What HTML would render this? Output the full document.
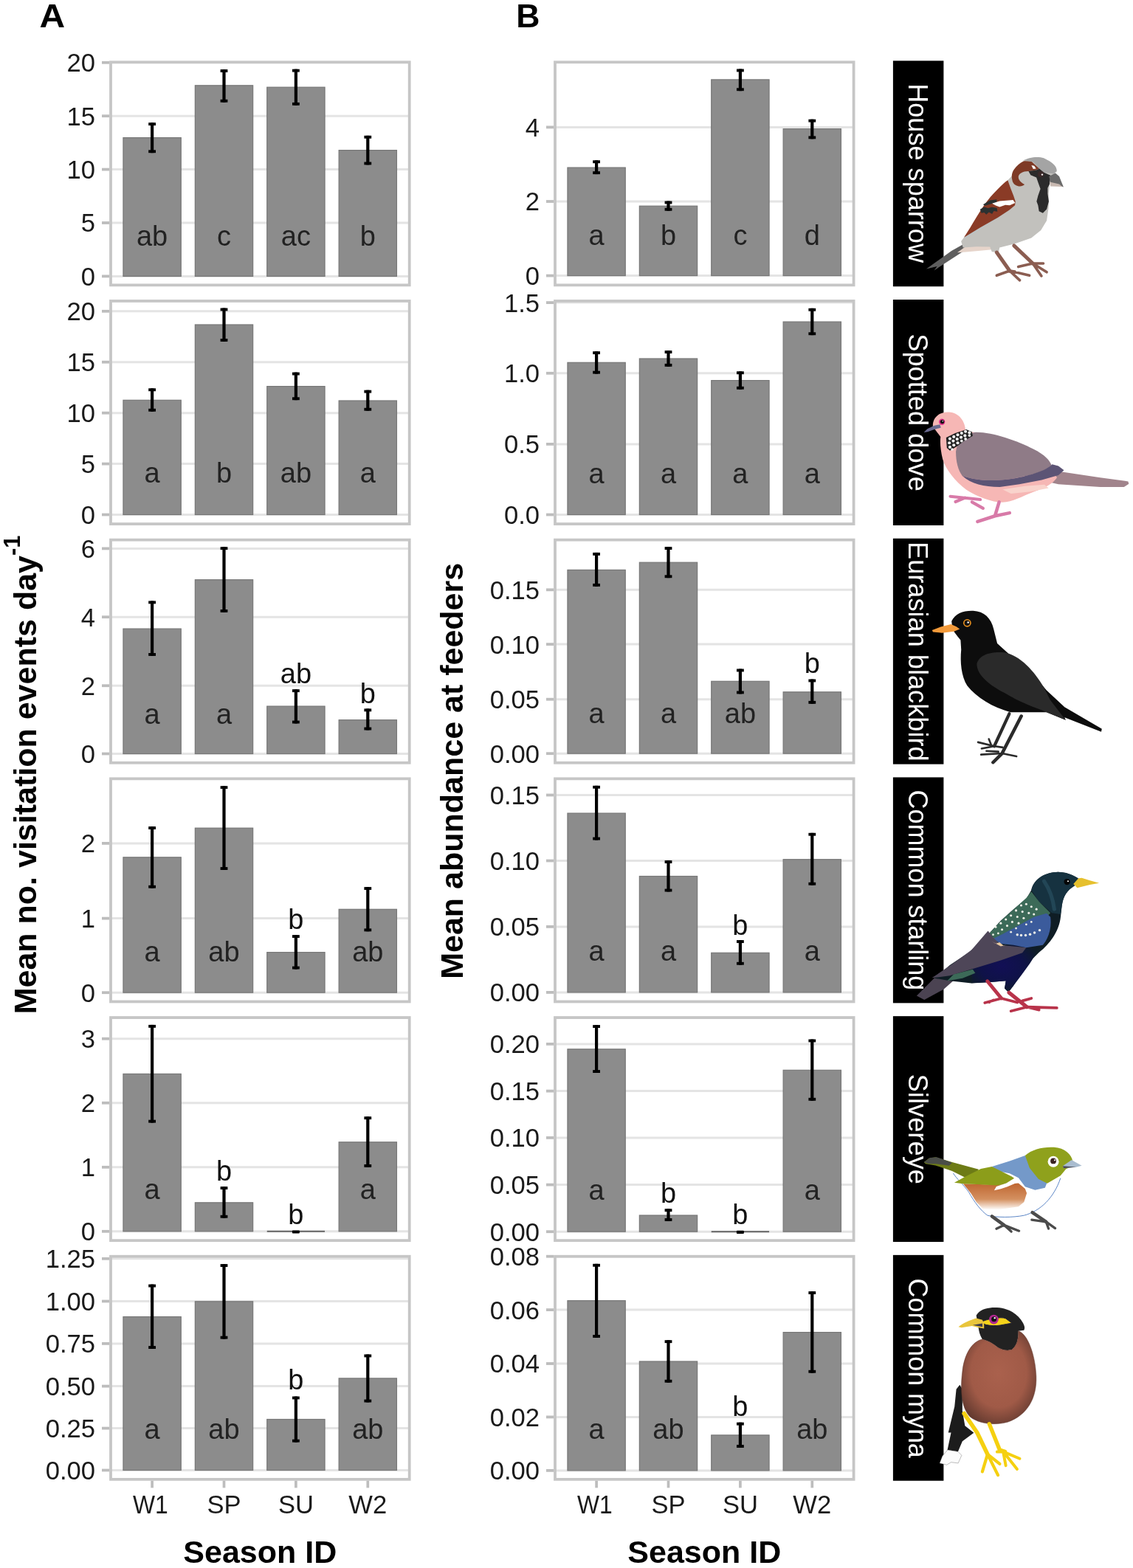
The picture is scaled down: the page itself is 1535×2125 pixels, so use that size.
<!DOCTYPE html>
<html><head><meta charset="utf-8"><title>Figure</title>
<style>
html,body{margin:0;padding:0;background:#fff;}
svg{display:block;}
text{font-family:"Liberation Sans",Arial,Helvetica,sans-serif;}
.lt{font-size:38px;text-anchor:middle;}
.tk{font-size:34.6px;text-anchor:end;fill:#1a1a1a;}
.xt{font-size:34.6px;text-anchor:middle;fill:#1a1a1a;}
.ttl{font-size:43px;font-weight:bold;fill:#000;}
.tag{font-size:44.5px;font-weight:bold;fill:#000;}
.st{font-size:37.7px;fill:#fff;text-anchor:middle;}
</style></head>
<body>
<svg width="1535" height="2125" viewBox="0 0 1535 2125">
<rect width="1535" height="2125" fill="#fff"/>
<line x1="150" y1="374.4" x2="554.7" y2="374.4" stroke="#e4e4e4" stroke-width="3"/>
<line x1="150" y1="302" x2="554.7" y2="302" stroke="#e4e4e4" stroke-width="3"/>
<line x1="150" y1="229.6" x2="554.7" y2="229.6" stroke="#e4e4e4" stroke-width="3"/>
<line x1="150" y1="157.2" x2="554.7" y2="157.2" stroke="#e4e4e4" stroke-width="3"/>
<line x1="150" y1="84.8" x2="554.7" y2="84.8" stroke="#e4e4e4" stroke-width="3"/>
<rect x="166.95" y="186.6" width="78.3" height="187.8" fill="#8c8c8c" stroke="#777777" stroke-width="1.2"/>
<rect x="264.35" y="115.8" width="78.3" height="258.6" fill="#8c8c8c" stroke="#777777" stroke-width="1.2"/>
<rect x="361.75" y="118.2" width="78.3" height="256.2" fill="#8c8c8c" stroke="#777777" stroke-width="1.2"/>
<rect x="459.15" y="203.6" width="78.3" height="170.8" fill="#8c8c8c" stroke="#777777" stroke-width="1.2"/>
<rect x="204" y="166.2" width="4.2" height="41" fill="#000"/>
<rect x="201.2" y="166.2" width="9.8" height="3.9" fill="#000"/>
<rect x="201.2" y="203.3" width="9.8" height="3.9" fill="#000"/>
<rect x="301.4" y="94.1" width="4.2" height="44.6" fill="#000"/>
<rect x="298.6" y="94.1" width="9.8" height="3.9" fill="#000"/>
<rect x="298.6" y="134.8" width="9.8" height="3.9" fill="#000"/>
<rect x="398.8" y="93.7" width="4.2" height="49.1" fill="#000"/>
<rect x="396" y="93.7" width="9.8" height="3.9" fill="#000"/>
<rect x="396" y="138.9" width="9.8" height="3.9" fill="#000"/>
<rect x="496.2" y="183.8" width="4.2" height="39.6" fill="#000"/>
<rect x="493.4" y="183.8" width="9.8" height="3.9" fill="#000"/>
<rect x="493.4" y="219.5" width="9.8" height="3.9" fill="#000"/>
<text x="206.1" y="332.6" class="lt" fill="#222">ab</text>
<text x="303.5" y="332.6" class="lt" fill="#222">c</text>
<text x="400.9" y="332.6" class="lt" fill="#222">ac</text>
<text x="498.3" y="332.6" class="lt" fill="#222">b</text>
<rect x="150" y="84.25" width="404.7" height="302.1" fill="none" stroke="#c6c6c6" stroke-width="3.8"/>
<line x1="138" y1="374.4" x2="148.1" y2="374.4" stroke="#bdbdbd" stroke-width="3.8"/>
<text x="129" y="386.8" class="tk">0</text>
<line x1="138" y1="302" x2="148.1" y2="302" stroke="#bdbdbd" stroke-width="3.8"/>
<text x="129" y="314.4" class="tk">5</text>
<line x1="138" y1="229.6" x2="148.1" y2="229.6" stroke="#bdbdbd" stroke-width="3.8"/>
<text x="129" y="242" class="tk">10</text>
<line x1="138" y1="157.2" x2="148.1" y2="157.2" stroke="#bdbdbd" stroke-width="3.8"/>
<text x="129" y="169.6" class="tk">15</text>
<line x1="138" y1="84.8" x2="148.1" y2="84.8" stroke="#bdbdbd" stroke-width="3.8"/>
<text x="129" y="97.2" class="tk">20</text>
<line x1="150" y1="697.5" x2="554.7" y2="697.5" stroke="#e4e4e4" stroke-width="3"/>
<line x1="150" y1="628.6" x2="554.7" y2="628.6" stroke="#e4e4e4" stroke-width="3"/>
<line x1="150" y1="559.65" x2="554.7" y2="559.65" stroke="#e4e4e4" stroke-width="3"/>
<line x1="150" y1="490.7" x2="554.7" y2="490.7" stroke="#e4e4e4" stroke-width="3"/>
<line x1="150" y1="421.8" x2="554.7" y2="421.8" stroke="#e4e4e4" stroke-width="3"/>
<rect x="166.95" y="542.3" width="78.3" height="155.2" fill="#8c8c8c" stroke="#777777" stroke-width="1.2"/>
<rect x="264.35" y="440" width="78.3" height="257.5" fill="#8c8c8c" stroke="#777777" stroke-width="1.2"/>
<rect x="361.75" y="523.6" width="78.3" height="173.9" fill="#8c8c8c" stroke="#777777" stroke-width="1.2"/>
<rect x="459.15" y="543" width="78.3" height="154.5" fill="#8c8c8c" stroke="#777777" stroke-width="1.2"/>
<rect x="204" y="526.3" width="4.2" height="31.4" fill="#000"/>
<rect x="201.2" y="526.3" width="9.8" height="3.9" fill="#000"/>
<rect x="201.2" y="553.8" width="9.8" height="3.9" fill="#000"/>
<rect x="301.4" y="417.5" width="4.2" height="45.4" fill="#000"/>
<rect x="298.6" y="417.5" width="9.8" height="3.9" fill="#000"/>
<rect x="298.6" y="459" width="9.8" height="3.9" fill="#000"/>
<rect x="398.8" y="504.6" width="4.2" height="37.6" fill="#000"/>
<rect x="396" y="504.6" width="9.8" height="3.9" fill="#000"/>
<rect x="396" y="538.3" width="9.8" height="3.9" fill="#000"/>
<rect x="496.2" y="528.7" width="4.2" height="28" fill="#000"/>
<rect x="493.4" y="528.7" width="9.8" height="3.9" fill="#000"/>
<rect x="493.4" y="552.8" width="9.8" height="3.9" fill="#000"/>
<text x="206.1" y="654.1" class="lt" fill="#222">a</text>
<text x="303.5" y="654.1" class="lt" fill="#222">b</text>
<text x="400.9" y="654.1" class="lt" fill="#222">ab</text>
<text x="498.3" y="654.1" class="lt" fill="#222">a</text>
<rect x="150" y="407.95" width="404.7" height="302.1" fill="none" stroke="#c6c6c6" stroke-width="3.8"/>
<line x1="138" y1="697.5" x2="148.1" y2="697.5" stroke="#bdbdbd" stroke-width="3.8"/>
<text x="129" y="709.9" class="tk">0</text>
<line x1="138" y1="628.6" x2="148.1" y2="628.6" stroke="#bdbdbd" stroke-width="3.8"/>
<text x="129" y="641" class="tk">5</text>
<line x1="138" y1="559.65" x2="148.1" y2="559.65" stroke="#bdbdbd" stroke-width="3.8"/>
<text x="129" y="572.05" class="tk">10</text>
<line x1="138" y1="490.7" x2="148.1" y2="490.7" stroke="#bdbdbd" stroke-width="3.8"/>
<text x="129" y="503.1" class="tk">15</text>
<line x1="138" y1="421.8" x2="148.1" y2="421.8" stroke="#bdbdbd" stroke-width="3.8"/>
<text x="129" y="434.2" class="tk">20</text>
<line x1="150" y1="1021.5" x2="554.7" y2="1021.5" stroke="#e4e4e4" stroke-width="3"/>
<line x1="150" y1="929.25" x2="554.7" y2="929.25" stroke="#e4e4e4" stroke-width="3"/>
<line x1="150" y1="836.2" x2="554.7" y2="836.2" stroke="#e4e4e4" stroke-width="3"/>
<line x1="150" y1="743.4" x2="554.7" y2="743.4" stroke="#e4e4e4" stroke-width="3"/>
<rect x="166.95" y="852.1" width="78.3" height="169.4" fill="#8c8c8c" stroke="#777777" stroke-width="1.2"/>
<rect x="264.35" y="785.7" width="78.3" height="235.8" fill="#8c8c8c" stroke="#777777" stroke-width="1.2"/>
<rect x="361.75" y="957.1" width="78.3" height="64.4" fill="#8c8c8c" stroke="#777777" stroke-width="1.2"/>
<rect x="459.15" y="975.7" width="78.3" height="45.8" fill="#8c8c8c" stroke="#777777" stroke-width="1.2"/>
<rect x="204" y="814.4" width="4.2" height="74.5" fill="#000"/>
<rect x="201.2" y="814.4" width="9.8" height="3.9" fill="#000"/>
<rect x="201.2" y="885" width="9.8" height="3.9" fill="#000"/>
<rect x="301.4" y="741.2" width="4.2" height="88.7" fill="#000"/>
<rect x="298.6" y="741.2" width="9.8" height="3.9" fill="#000"/>
<rect x="298.6" y="826" width="9.8" height="3.9" fill="#000"/>
<rect x="398.8" y="934.2" width="4.2" height="46.3" fill="#000"/>
<rect x="396" y="934.2" width="9.8" height="3.9" fill="#000"/>
<rect x="396" y="976.6" width="9.8" height="3.9" fill="#000"/>
<rect x="496.2" y="960.4" width="4.2" height="29.1" fill="#000"/>
<rect x="493.4" y="960.4" width="9.8" height="3.9" fill="#000"/>
<rect x="493.4" y="985.6" width="9.8" height="3.9" fill="#000"/>
<text x="206.1" y="980.9" class="lt" fill="#222">a</text>
<text x="303.5" y="980.9" class="lt" fill="#222">a</text>
<text x="400.9" y="926" class="lt" fill="#111">ab</text>
<text x="498.3" y="952.8" class="lt" fill="#111">b</text>
<rect x="150" y="731.65" width="404.7" height="302.1" fill="none" stroke="#c6c6c6" stroke-width="3.8"/>
<line x1="138" y1="1021.5" x2="148.1" y2="1021.5" stroke="#bdbdbd" stroke-width="3.8"/>
<text x="129" y="1033.9" class="tk">0</text>
<line x1="138" y1="929.25" x2="148.1" y2="929.25" stroke="#bdbdbd" stroke-width="3.8"/>
<text x="129" y="941.65" class="tk">2</text>
<line x1="138" y1="836.2" x2="148.1" y2="836.2" stroke="#bdbdbd" stroke-width="3.8"/>
<text x="129" y="848.6" class="tk">4</text>
<line x1="138" y1="743.4" x2="148.1" y2="743.4" stroke="#bdbdbd" stroke-width="3.8"/>
<text x="129" y="755.8" class="tk">6</text>
<line x1="150" y1="1345.2" x2="554.7" y2="1345.2" stroke="#e4e4e4" stroke-width="3"/>
<line x1="150" y1="1244.6" x2="554.7" y2="1244.6" stroke="#e4e4e4" stroke-width="3"/>
<line x1="150" y1="1142.9" x2="554.7" y2="1142.9" stroke="#e4e4e4" stroke-width="3"/>
<rect x="166.95" y="1161.8" width="78.3" height="183.4" fill="#8c8c8c" stroke="#777777" stroke-width="1.2"/>
<rect x="264.35" y="1122.2" width="78.3" height="223" fill="#8c8c8c" stroke="#777777" stroke-width="1.2"/>
<rect x="361.75" y="1290.6" width="78.3" height="54.6" fill="#8c8c8c" stroke="#777777" stroke-width="1.2"/>
<rect x="459.15" y="1232.3" width="78.3" height="112.9" fill="#8c8c8c" stroke="#777777" stroke-width="1.2"/>
<rect x="204" y="1120.1" width="4.2" height="83.6" fill="#000"/>
<rect x="201.2" y="1120.1" width="9.8" height="3.9" fill="#000"/>
<rect x="201.2" y="1199.8" width="9.8" height="3.9" fill="#000"/>
<rect x="301.4" y="1065.2" width="4.2" height="113.8" fill="#000"/>
<rect x="298.6" y="1065.2" width="9.8" height="3.9" fill="#000"/>
<rect x="298.6" y="1175.1" width="9.8" height="3.9" fill="#000"/>
<rect x="398.8" y="1267.1" width="4.2" height="46.4" fill="#000"/>
<rect x="396" y="1267.1" width="9.8" height="3.9" fill="#000"/>
<rect x="396" y="1309.6" width="9.8" height="3.9" fill="#000"/>
<rect x="496.2" y="1202.1" width="4.2" height="60.2" fill="#000"/>
<rect x="493.4" y="1202.1" width="9.8" height="3.9" fill="#000"/>
<rect x="493.4" y="1258.4" width="9.8" height="3.9" fill="#000"/>
<text x="206.1" y="1302.8" class="lt" fill="#222">a</text>
<text x="303.5" y="1302.8" class="lt" fill="#222">ab</text>
<text x="400.9" y="1258.8" class="lt" fill="#111">b</text>
<text x="498.3" y="1302.8" class="lt" fill="#222">ab</text>
<rect x="150" y="1055.35" width="404.7" height="302.1" fill="none" stroke="#c6c6c6" stroke-width="3.8"/>
<line x1="138" y1="1345.2" x2="148.1" y2="1345.2" stroke="#bdbdbd" stroke-width="3.8"/>
<text x="129" y="1357.6" class="tk">0</text>
<line x1="138" y1="1244.6" x2="148.1" y2="1244.6" stroke="#bdbdbd" stroke-width="3.8"/>
<text x="129" y="1257" class="tk">1</text>
<line x1="138" y1="1142.9" x2="148.1" y2="1142.9" stroke="#bdbdbd" stroke-width="3.8"/>
<text x="129" y="1155.3" class="tk">2</text>
<line x1="150" y1="1668.8" x2="554.7" y2="1668.8" stroke="#e4e4e4" stroke-width="3"/>
<line x1="150" y1="1581.8" x2="554.7" y2="1581.8" stroke="#e4e4e4" stroke-width="3"/>
<line x1="150" y1="1494.7" x2="554.7" y2="1494.7" stroke="#e4e4e4" stroke-width="3"/>
<line x1="150" y1="1407.7" x2="554.7" y2="1407.7" stroke="#e4e4e4" stroke-width="3"/>
<rect x="166.95" y="1455.4" width="78.3" height="213.4" fill="#8c8c8c" stroke="#777777" stroke-width="1.2"/>
<rect x="264.35" y="1629.8" width="78.3" height="39" fill="#8c8c8c" stroke="#777777" stroke-width="1.2"/>
<rect x="361.75" y="1667.8" width="78.3" height="2" fill="#666"/>
<rect x="459.15" y="1547.8" width="78.3" height="121" fill="#8c8c8c" stroke="#777777" stroke-width="1.2"/>
<rect x="204" y="1388.9" width="4.2" height="132.7" fill="#000"/>
<rect x="201.2" y="1388.9" width="9.8" height="3.9" fill="#000"/>
<rect x="201.2" y="1517.7" width="9.8" height="3.9" fill="#000"/>
<rect x="301.4" y="1608.1" width="4.2" height="42.6" fill="#000"/>
<rect x="298.6" y="1608.1" width="9.8" height="3.9" fill="#000"/>
<rect x="298.6" y="1646.8" width="9.8" height="3.9" fill="#000"/>
<rect x="395.9" y="1667.5" width="10" height="4.1" rx="1" fill="#000"/>
<rect x="496.2" y="1513.2" width="4.2" height="68.7" fill="#000"/>
<rect x="493.4" y="1513.2" width="9.8" height="3.9" fill="#000"/>
<rect x="493.4" y="1578" width="9.8" height="3.9" fill="#000"/>
<text x="206.1" y="1625.1" class="lt" fill="#222">a</text>
<text x="303.5" y="1599.7" class="lt" fill="#111">b</text>
<text x="400.9" y="1658.6" class="lt" fill="#111">b</text>
<text x="498.3" y="1625.1" class="lt" fill="#222">a</text>
<rect x="150" y="1379.05" width="404.7" height="302.1" fill="none" stroke="#c6c6c6" stroke-width="3.8"/>
<line x1="138" y1="1668.8" x2="148.1" y2="1668.8" stroke="#bdbdbd" stroke-width="3.8"/>
<text x="129" y="1681.2" class="tk">0</text>
<line x1="138" y1="1581.8" x2="148.1" y2="1581.8" stroke="#bdbdbd" stroke-width="3.8"/>
<text x="129" y="1594.2" class="tk">1</text>
<line x1="138" y1="1494.7" x2="148.1" y2="1494.7" stroke="#bdbdbd" stroke-width="3.8"/>
<text x="129" y="1507.1" class="tk">2</text>
<line x1="138" y1="1407.7" x2="148.1" y2="1407.7" stroke="#bdbdbd" stroke-width="3.8"/>
<text x="129" y="1420.1" class="tk">3</text>
<line x1="150" y1="1992.5" x2="554.7" y2="1992.5" stroke="#e4e4e4" stroke-width="3"/>
<line x1="150" y1="1935.6" x2="554.7" y2="1935.6" stroke="#e4e4e4" stroke-width="3"/>
<line x1="150" y1="1878.6" x2="554.7" y2="1878.6" stroke="#e4e4e4" stroke-width="3"/>
<line x1="150" y1="1820.9" x2="554.7" y2="1820.9" stroke="#e4e4e4" stroke-width="3"/>
<line x1="150" y1="1763.5" x2="554.7" y2="1763.5" stroke="#e4e4e4" stroke-width="3"/>
<line x1="150" y1="1705.8" x2="554.7" y2="1705.8" stroke="#e4e4e4" stroke-width="3"/>
<rect x="166.95" y="1784.5" width="78.3" height="208" fill="#8c8c8c" stroke="#777777" stroke-width="1.2"/>
<rect x="264.35" y="1763.8" width="78.3" height="228.7" fill="#8c8c8c" stroke="#777777" stroke-width="1.2"/>
<rect x="361.75" y="1923.5" width="78.3" height="69" fill="#8c8c8c" stroke="#777777" stroke-width="1.2"/>
<rect x="459.15" y="1867.9" width="78.3" height="124.6" fill="#8c8c8c" stroke="#777777" stroke-width="1.2"/>
<rect x="204" y="1740.6" width="4.2" height="87.4" fill="#000"/>
<rect x="201.2" y="1740.6" width="9.8" height="3.9" fill="#000"/>
<rect x="201.2" y="1824.1" width="9.8" height="3.9" fill="#000"/>
<rect x="301.4" y="1713.1" width="4.2" height="101.5" fill="#000"/>
<rect x="298.6" y="1713.1" width="9.8" height="3.9" fill="#000"/>
<rect x="298.6" y="1810.7" width="9.8" height="3.9" fill="#000"/>
<rect x="398.8" y="1892.5" width="4.2" height="62.1" fill="#000"/>
<rect x="396" y="1892.5" width="9.8" height="3.9" fill="#000"/>
<rect x="396" y="1950.7" width="9.8" height="3.9" fill="#000"/>
<rect x="496.2" y="1835.5" width="4.2" height="65" fill="#000"/>
<rect x="493.4" y="1835.5" width="9.8" height="3.9" fill="#000"/>
<rect x="493.4" y="1896.6" width="9.8" height="3.9" fill="#000"/>
<text x="206.1" y="1950.3" class="lt" fill="#222">a</text>
<text x="303.5" y="1950.3" class="lt" fill="#222">ab</text>
<text x="400.9" y="1882.8" class="lt" fill="#111">b</text>
<text x="498.3" y="1950.3" class="lt" fill="#222">ab</text>
<rect x="150" y="1702.75" width="404.7" height="302.1" fill="none" stroke="#c6c6c6" stroke-width="3.8"/>
<line x1="138" y1="1992.5" x2="148.1" y2="1992.5" stroke="#bdbdbd" stroke-width="3.8"/>
<text x="129" y="2004.9" class="tk">0.00</text>
<line x1="138" y1="1935.6" x2="148.1" y2="1935.6" stroke="#bdbdbd" stroke-width="3.8"/>
<text x="129" y="1948" class="tk">0.25</text>
<line x1="138" y1="1878.6" x2="148.1" y2="1878.6" stroke="#bdbdbd" stroke-width="3.8"/>
<text x="129" y="1891" class="tk">0.50</text>
<line x1="138" y1="1820.9" x2="148.1" y2="1820.9" stroke="#bdbdbd" stroke-width="3.8"/>
<text x="129" y="1833.3" class="tk">0.75</text>
<line x1="138" y1="1763.5" x2="148.1" y2="1763.5" stroke="#bdbdbd" stroke-width="3.8"/>
<text x="129" y="1775.9" class="tk">1.00</text>
<line x1="138" y1="1705.8" x2="148.1" y2="1705.8" stroke="#bdbdbd" stroke-width="3.8"/>
<text x="129" y="1718.2" class="tk">1.25</text>
<line x1="752" y1="373.6" x2="1156.6" y2="373.6" stroke="#e4e4e4" stroke-width="3"/>
<line x1="752" y1="273" x2="1156.6" y2="273" stroke="#e4e4e4" stroke-width="3"/>
<line x1="752" y1="172.4" x2="1156.6" y2="172.4" stroke="#e4e4e4" stroke-width="3"/>
<rect x="768.95" y="227.1" width="78.3" height="146.5" fill="#8c8c8c" stroke="#777777" stroke-width="1.2"/>
<rect x="866.35" y="279.2" width="78.3" height="94.4" fill="#8c8c8c" stroke="#777777" stroke-width="1.2"/>
<rect x="963.75" y="107.9" width="78.3" height="265.7" fill="#8c8c8c" stroke="#777777" stroke-width="1.2"/>
<rect x="1061.15" y="174.7" width="78.3" height="198.9" fill="#8c8c8c" stroke="#777777" stroke-width="1.2"/>
<rect x="806" y="217.3" width="4.2" height="18.8" fill="#000"/>
<rect x="803.2" y="217.3" width="9.8" height="3.9" fill="#000"/>
<rect x="803.2" y="232.2" width="9.8" height="3.9" fill="#000"/>
<rect x="903.4" y="272.5" width="4.2" height="13.2" fill="#000"/>
<rect x="900.6" y="272.5" width="9.8" height="3.9" fill="#000"/>
<rect x="900.6" y="281.8" width="9.8" height="3.9" fill="#000"/>
<rect x="1000.8" y="93.5" width="4.2" height="29.7" fill="#000"/>
<rect x="998" y="93.5" width="9.8" height="3.9" fill="#000"/>
<rect x="998" y="119.3" width="9.8" height="3.9" fill="#000"/>
<rect x="1098.2" y="161.7" width="4.2" height="26.6" fill="#000"/>
<rect x="1095.4" y="161.7" width="9.8" height="3.9" fill="#000"/>
<rect x="1095.4" y="184.4" width="9.8" height="3.9" fill="#000"/>
<text x="808.1" y="332.1" class="lt" fill="#222">a</text>
<text x="905.5" y="332.1" class="lt" fill="#222">b</text>
<text x="1002.9" y="332.1" class="lt" fill="#222">c</text>
<text x="1100.3" y="332.1" class="lt" fill="#222">d</text>
<rect x="752" y="84.25" width="404.6" height="302.1" fill="none" stroke="#c6c6c6" stroke-width="3.8"/>
<line x1="740" y1="373.6" x2="750.1" y2="373.6" stroke="#bdbdbd" stroke-width="3.8"/>
<text x="731" y="386" class="tk">0</text>
<line x1="740" y1="273" x2="750.1" y2="273" stroke="#bdbdbd" stroke-width="3.8"/>
<text x="731" y="285.4" class="tk">2</text>
<line x1="740" y1="172.4" x2="750.1" y2="172.4" stroke="#bdbdbd" stroke-width="3.8"/>
<text x="731" y="184.8" class="tk">4</text>
<line x1="752" y1="697.5" x2="1156.6" y2="697.5" stroke="#e4e4e4" stroke-width="3"/>
<line x1="752" y1="601.9" x2="1156.6" y2="601.9" stroke="#e4e4e4" stroke-width="3"/>
<line x1="752" y1="505.8" x2="1156.6" y2="505.8" stroke="#e4e4e4" stroke-width="3"/>
<line x1="752" y1="410.1" x2="1156.6" y2="410.1" stroke="#e4e4e4" stroke-width="3"/>
<rect x="768.95" y="491.3" width="78.3" height="206.2" fill="#8c8c8c" stroke="#777777" stroke-width="1.2"/>
<rect x="866.35" y="486" width="78.3" height="211.5" fill="#8c8c8c" stroke="#777777" stroke-width="1.2"/>
<rect x="963.75" y="515.6" width="78.3" height="181.9" fill="#8c8c8c" stroke="#777777" stroke-width="1.2"/>
<rect x="1061.15" y="436.1" width="78.3" height="261.4" fill="#8c8c8c" stroke="#777777" stroke-width="1.2"/>
<rect x="806" y="476.2" width="4.2" height="30.4" fill="#000"/>
<rect x="803.2" y="476.2" width="9.8" height="3.9" fill="#000"/>
<rect x="803.2" y="502.7" width="9.8" height="3.9" fill="#000"/>
<rect x="903.4" y="475.1" width="4.2" height="21.7" fill="#000"/>
<rect x="900.6" y="475.1" width="9.8" height="3.9" fill="#000"/>
<rect x="900.6" y="492.9" width="9.8" height="3.9" fill="#000"/>
<rect x="1000.8" y="503.3" width="4.2" height="24.4" fill="#000"/>
<rect x="998" y="503.3" width="9.8" height="3.9" fill="#000"/>
<rect x="998" y="523.8" width="9.8" height="3.9" fill="#000"/>
<rect x="1098.2" y="417.8" width="4.2" height="36.4" fill="#000"/>
<rect x="1095.4" y="417.8" width="9.8" height="3.9" fill="#000"/>
<rect x="1095.4" y="450.3" width="9.8" height="3.9" fill="#000"/>
<text x="808.1" y="654.6" class="lt" fill="#222">a</text>
<text x="905.5" y="654.6" class="lt" fill="#222">a</text>
<text x="1002.9" y="654.6" class="lt" fill="#222">a</text>
<text x="1100.3" y="654.6" class="lt" fill="#222">a</text>
<rect x="752" y="407.95" width="404.6" height="302.1" fill="none" stroke="#c6c6c6" stroke-width="3.8"/>
<line x1="740" y1="697.5" x2="750.1" y2="697.5" stroke="#bdbdbd" stroke-width="3.8"/>
<text x="731" y="709.9" class="tk">0.0</text>
<line x1="740" y1="601.9" x2="750.1" y2="601.9" stroke="#bdbdbd" stroke-width="3.8"/>
<text x="731" y="614.3" class="tk">0.5</text>
<line x1="740" y1="505.8" x2="750.1" y2="505.8" stroke="#bdbdbd" stroke-width="3.8"/>
<text x="731" y="518.2" class="tk">1.0</text>
<line x1="740" y1="410.1" x2="750.1" y2="410.1" stroke="#bdbdbd" stroke-width="3.8"/>
<text x="731" y="422.5" class="tk">1.5</text>
<line x1="752" y1="1021.2" x2="1156.6" y2="1021.2" stroke="#e4e4e4" stroke-width="3"/>
<line x1="752" y1="947.7" x2="1156.6" y2="947.7" stroke="#e4e4e4" stroke-width="3"/>
<line x1="752" y1="873.1" x2="1156.6" y2="873.1" stroke="#e4e4e4" stroke-width="3"/>
<line x1="752" y1="799.3" x2="1156.6" y2="799.3" stroke="#e4e4e4" stroke-width="3"/>
<rect x="768.95" y="772.4" width="78.3" height="248.8" fill="#8c8c8c" stroke="#777777" stroke-width="1.2"/>
<rect x="866.35" y="762.2" width="78.3" height="259" fill="#8c8c8c" stroke="#777777" stroke-width="1.2"/>
<rect x="963.75" y="923.3" width="78.3" height="97.9" fill="#8c8c8c" stroke="#777777" stroke-width="1.2"/>
<rect x="1061.15" y="937.8" width="78.3" height="83.4" fill="#8c8c8c" stroke="#777777" stroke-width="1.2"/>
<rect x="806" y="748.9" width="4.2" height="45.9" fill="#000"/>
<rect x="803.2" y="748.9" width="9.8" height="3.9" fill="#000"/>
<rect x="803.2" y="790.9" width="9.8" height="3.9" fill="#000"/>
<rect x="903.4" y="741.1" width="4.2" height="42.1" fill="#000"/>
<rect x="900.6" y="741.1" width="9.8" height="3.9" fill="#000"/>
<rect x="900.6" y="779.3" width="9.8" height="3.9" fill="#000"/>
<rect x="1000.8" y="906.5" width="4.2" height="33.9" fill="#000"/>
<rect x="998" y="906.5" width="9.8" height="3.9" fill="#000"/>
<rect x="998" y="936.5" width="9.8" height="3.9" fill="#000"/>
<rect x="1098.2" y="920.5" width="4.2" height="33.3" fill="#000"/>
<rect x="1095.4" y="920.5" width="9.8" height="3.9" fill="#000"/>
<rect x="1095.4" y="949.9" width="9.8" height="3.9" fill="#000"/>
<text x="808.1" y="980.1" class="lt" fill="#222">a</text>
<text x="905.5" y="980.1" class="lt" fill="#222">a</text>
<text x="1002.9" y="980.1" class="lt" fill="#222">ab</text>
<text x="1100.3" y="911.5" class="lt" fill="#111">b</text>
<rect x="752" y="731.65" width="404.6" height="302.1" fill="none" stroke="#c6c6c6" stroke-width="3.8"/>
<line x1="740" y1="1021.2" x2="750.1" y2="1021.2" stroke="#bdbdbd" stroke-width="3.8"/>
<text x="731" y="1033.6" class="tk">0.00</text>
<line x1="740" y1="947.7" x2="750.1" y2="947.7" stroke="#bdbdbd" stroke-width="3.8"/>
<text x="731" y="960.1" class="tk">0.05</text>
<line x1="740" y1="873.1" x2="750.1" y2="873.1" stroke="#bdbdbd" stroke-width="3.8"/>
<text x="731" y="885.5" class="tk">0.10</text>
<line x1="740" y1="799.3" x2="750.1" y2="799.3" stroke="#bdbdbd" stroke-width="3.8"/>
<text x="731" y="811.7" class="tk">0.15</text>
<line x1="752" y1="1344.9" x2="1156.6" y2="1344.9" stroke="#e4e4e4" stroke-width="3"/>
<line x1="752" y1="1255.9" x2="1156.6" y2="1255.9" stroke="#e4e4e4" stroke-width="3"/>
<line x1="752" y1="1166.5" x2="1156.6" y2="1166.5" stroke="#e4e4e4" stroke-width="3"/>
<line x1="752" y1="1077.5" x2="1156.6" y2="1077.5" stroke="#e4e4e4" stroke-width="3"/>
<rect x="768.95" y="1102.1" width="78.3" height="242.8" fill="#8c8c8c" stroke="#777777" stroke-width="1.2"/>
<rect x="866.35" y="1187.5" width="78.3" height="157.4" fill="#8c8c8c" stroke="#777777" stroke-width="1.2"/>
<rect x="963.75" y="1291.3" width="78.3" height="53.6" fill="#8c8c8c" stroke="#777777" stroke-width="1.2"/>
<rect x="1061.15" y="1164.7" width="78.3" height="180.2" fill="#8c8c8c" stroke="#777777" stroke-width="1.2"/>
<rect x="806" y="1064.8" width="4.2" height="73.7" fill="#000"/>
<rect x="803.2" y="1064.8" width="9.8" height="3.9" fill="#000"/>
<rect x="803.2" y="1134.6" width="9.8" height="3.9" fill="#000"/>
<rect x="903.4" y="1166.1" width="4.2" height="42.4" fill="#000"/>
<rect x="900.6" y="1166.1" width="9.8" height="3.9" fill="#000"/>
<rect x="900.6" y="1204.6" width="9.8" height="3.9" fill="#000"/>
<rect x="1000.8" y="1274.1" width="4.2" height="33.6" fill="#000"/>
<rect x="998" y="1274.1" width="9.8" height="3.9" fill="#000"/>
<rect x="998" y="1303.8" width="9.8" height="3.9" fill="#000"/>
<rect x="1098.2" y="1128.8" width="4.2" height="70.9" fill="#000"/>
<rect x="1095.4" y="1128.8" width="9.8" height="3.9" fill="#000"/>
<rect x="1095.4" y="1195.8" width="9.8" height="3.9" fill="#000"/>
<text x="808.1" y="1302.3" class="lt" fill="#222">a</text>
<text x="905.5" y="1302.3" class="lt" fill="#222">a</text>
<text x="1002.9" y="1267.1" class="lt" fill="#111">b</text>
<text x="1100.3" y="1302.3" class="lt" fill="#222">a</text>
<rect x="752" y="1055.35" width="404.6" height="302.1" fill="none" stroke="#c6c6c6" stroke-width="3.8"/>
<line x1="740" y1="1344.9" x2="750.1" y2="1344.9" stroke="#bdbdbd" stroke-width="3.8"/>
<text x="731" y="1357.3" class="tk">0.00</text>
<line x1="740" y1="1255.9" x2="750.1" y2="1255.9" stroke="#bdbdbd" stroke-width="3.8"/>
<text x="731" y="1268.3" class="tk">0.05</text>
<line x1="740" y1="1166.5" x2="750.1" y2="1166.5" stroke="#bdbdbd" stroke-width="3.8"/>
<text x="731" y="1178.9" class="tk">0.10</text>
<line x1="740" y1="1077.5" x2="750.1" y2="1077.5" stroke="#bdbdbd" stroke-width="3.8"/>
<text x="731" y="1089.9" class="tk">0.15</text>
<line x1="752" y1="1669.2" x2="1156.6" y2="1669.2" stroke="#e4e4e4" stroke-width="3"/>
<line x1="752" y1="1605.6" x2="1156.6" y2="1605.6" stroke="#e4e4e4" stroke-width="3"/>
<line x1="752" y1="1541.9" x2="1156.6" y2="1541.9" stroke="#e4e4e4" stroke-width="3"/>
<line x1="752" y1="1478.6" x2="1156.6" y2="1478.6" stroke="#e4e4e4" stroke-width="3"/>
<line x1="752" y1="1414.9" x2="1156.6" y2="1414.9" stroke="#e4e4e4" stroke-width="3"/>
<rect x="768.95" y="1421.8" width="78.3" height="247.4" fill="#8c8c8c" stroke="#777777" stroke-width="1.2"/>
<rect x="866.35" y="1647" width="78.3" height="22.2" fill="#8c8c8c" stroke="#777777" stroke-width="1.2"/>
<rect x="963.75" y="1668.2" width="78.3" height="2" fill="#666"/>
<rect x="1061.15" y="1450.3" width="78.3" height="218.9" fill="#8c8c8c" stroke="#777777" stroke-width="1.2"/>
<rect x="806" y="1389.1" width="4.2" height="64.9" fill="#000"/>
<rect x="803.2" y="1389.1" width="9.8" height="3.9" fill="#000"/>
<rect x="803.2" y="1450.1" width="9.8" height="3.9" fill="#000"/>
<rect x="903.4" y="1638.2" width="4.2" height="16.7" fill="#000"/>
<rect x="900.6" y="1638.2" width="9.8" height="3.9" fill="#000"/>
<rect x="900.6" y="1651" width="9.8" height="3.9" fill="#000"/>
<rect x="997.9" y="1667.8" width="10" height="4.1" rx="1" fill="#000"/>
<rect x="1098.2" y="1408.5" width="4.2" height="83.2" fill="#000"/>
<rect x="1095.4" y="1408.5" width="9.8" height="3.9" fill="#000"/>
<rect x="1095.4" y="1487.8" width="9.8" height="3.9" fill="#000"/>
<text x="808.1" y="1626.3" class="lt" fill="#222">a</text>
<text x="905.5" y="1629.8" class="lt" fill="#111">b</text>
<text x="1002.9" y="1658.7" class="lt" fill="#111">b</text>
<text x="1100.3" y="1626.3" class="lt" fill="#222">a</text>
<rect x="752" y="1379.05" width="404.6" height="302.1" fill="none" stroke="#c6c6c6" stroke-width="3.8"/>
<line x1="740" y1="1669.2" x2="750.1" y2="1669.2" stroke="#bdbdbd" stroke-width="3.8"/>
<text x="731" y="1681.6" class="tk">0.00</text>
<line x1="740" y1="1605.6" x2="750.1" y2="1605.6" stroke="#bdbdbd" stroke-width="3.8"/>
<text x="731" y="1618" class="tk">0.05</text>
<line x1="740" y1="1541.9" x2="750.1" y2="1541.9" stroke="#bdbdbd" stroke-width="3.8"/>
<text x="731" y="1554.3" class="tk">0.10</text>
<line x1="740" y1="1478.6" x2="750.1" y2="1478.6" stroke="#bdbdbd" stroke-width="3.8"/>
<text x="731" y="1491" class="tk">0.15</text>
<line x1="740" y1="1414.9" x2="750.1" y2="1414.9" stroke="#bdbdbd" stroke-width="3.8"/>
<text x="731" y="1427.3" class="tk">0.20</text>
<line x1="752" y1="1992.9" x2="1156.6" y2="1992.9" stroke="#e4e4e4" stroke-width="3"/>
<line x1="752" y1="1920.4" x2="1156.6" y2="1920.4" stroke="#e4e4e4" stroke-width="3"/>
<line x1="752" y1="1848" x2="1156.6" y2="1848" stroke="#e4e4e4" stroke-width="3"/>
<line x1="752" y1="1775.1" x2="1156.6" y2="1775.1" stroke="#e4e4e4" stroke-width="3"/>
<line x1="752" y1="1702.7" x2="1156.6" y2="1702.7" stroke="#e4e4e4" stroke-width="3"/>
<rect x="768.95" y="1762.7" width="78.3" height="230.2" fill="#8c8c8c" stroke="#777777" stroke-width="1.2"/>
<rect x="866.35" y="1845" width="78.3" height="147.9" fill="#8c8c8c" stroke="#777777" stroke-width="1.2"/>
<rect x="963.75" y="1944.9" width="78.3" height="48" fill="#8c8c8c" stroke="#777777" stroke-width="1.2"/>
<rect x="1061.15" y="1805.6" width="78.3" height="187.3" fill="#8c8c8c" stroke="#777777" stroke-width="1.2"/>
<rect x="806" y="1712.8" width="4.2" height="100.1" fill="#000"/>
<rect x="803.2" y="1712.8" width="9.8" height="3.9" fill="#000"/>
<rect x="803.2" y="1809" width="9.8" height="3.9" fill="#000"/>
<rect x="903.4" y="1816.2" width="4.2" height="57.5" fill="#000"/>
<rect x="900.6" y="1816.2" width="9.8" height="3.9" fill="#000"/>
<rect x="900.6" y="1869.8" width="9.8" height="3.9" fill="#000"/>
<rect x="1000.8" y="1927.7" width="4.2" height="34.3" fill="#000"/>
<rect x="998" y="1927.7" width="9.8" height="3.9" fill="#000"/>
<rect x="998" y="1958.1" width="9.8" height="3.9" fill="#000"/>
<rect x="1098.2" y="1750.1" width="4.2" height="110.6" fill="#000"/>
<rect x="1095.4" y="1750.1" width="9.8" height="3.9" fill="#000"/>
<rect x="1095.4" y="1856.8" width="9.8" height="3.9" fill="#000"/>
<text x="808.1" y="1950.3" class="lt" fill="#222">a</text>
<text x="905.5" y="1950.3" class="lt" fill="#222">ab</text>
<text x="1002.9" y="1918.7" class="lt" fill="#111">b</text>
<text x="1100.3" y="1950.3" class="lt" fill="#222">ab</text>
<rect x="752" y="1702.75" width="404.6" height="302.1" fill="none" stroke="#c6c6c6" stroke-width="3.8"/>
<line x1="740" y1="1992.9" x2="750.1" y2="1992.9" stroke="#bdbdbd" stroke-width="3.8"/>
<text x="731" y="2005.3" class="tk">0.00</text>
<line x1="740" y1="1920.4" x2="750.1" y2="1920.4" stroke="#bdbdbd" stroke-width="3.8"/>
<text x="731" y="1932.8" class="tk">0.02</text>
<line x1="740" y1="1848" x2="750.1" y2="1848" stroke="#bdbdbd" stroke-width="3.8"/>
<text x="731" y="1860.4" class="tk">0.04</text>
<line x1="740" y1="1775.1" x2="750.1" y2="1775.1" stroke="#bdbdbd" stroke-width="3.8"/>
<text x="731" y="1787.5" class="tk">0.06</text>
<line x1="740" y1="1702.7" x2="750.1" y2="1702.7" stroke="#bdbdbd" stroke-width="3.8"/>
<text x="731" y="1715.1" class="tk">0.08</text>
<line x1="206.1" y1="2006.75" x2="206.1" y2="2016.35" stroke="#bdbdbd" stroke-width="3.7"/>
<text x="203.95" y="2051" class="xt" textLength="47.7" lengthAdjust="spacingAndGlyphs">W1</text>
<line x1="303.5" y1="2006.75" x2="303.5" y2="2016.35" stroke="#bdbdbd" stroke-width="3.7"/>
<text x="303.5" y="2051" class="xt">SP</text>
<line x1="400.9" y1="2006.75" x2="400.9" y2="2016.35" stroke="#bdbdbd" stroke-width="3.7"/>
<text x="400.9" y="2051" class="xt">SU</text>
<line x1="498.3" y1="2006.75" x2="498.3" y2="2016.35" stroke="#bdbdbd" stroke-width="3.7"/>
<text x="498.3" y="2051" class="xt">W2</text>
<line x1="808.1" y1="2006.75" x2="808.1" y2="2016.35" stroke="#bdbdbd" stroke-width="3.7"/>
<text x="805.95" y="2051" class="xt" textLength="47.7" lengthAdjust="spacingAndGlyphs">W1</text>
<line x1="905.5" y1="2006.75" x2="905.5" y2="2016.35" stroke="#bdbdbd" stroke-width="3.7"/>
<text x="905.5" y="2051" class="xt">SP</text>
<line x1="1002.9" y1="2006.75" x2="1002.9" y2="2016.35" stroke="#bdbdbd" stroke-width="3.7"/>
<text x="1002.9" y="2051" class="xt">SU</text>
<line x1="1100.3" y1="2006.75" x2="1100.3" y2="2016.35" stroke="#bdbdbd" stroke-width="3.7"/>
<text x="1100.3" y="2051" class="xt">W2</text>
<text x="352.3" y="2118.1" class="ttl" text-anchor="middle">Season ID</text>
<text x="954.3" y="2118.1" class="ttl" text-anchor="middle">Season ID</text>
<text transform="translate(49.4,1374.3) rotate(-90)" class="ttl">Mean no. visitation events day<tspan dy="-22.5" font-size="31">-1</tspan></text>
<text transform="translate(627.4,1326.8) rotate(-90)" class="ttl">Mean abundance at feeders</text>
<text x="53.4" y="36.7" class="tag" textLength="34.6" lengthAdjust="spacingAndGlyphs">A</text>
<text x="699.3" y="36.7" class="tag">B</text>
<rect x="1209.9" y="82.35" width="68.5" height="305.9" fill="#000"/>
<text transform="translate(1230.7,234.6) rotate(90)" class="st" textLength="242.8" lengthAdjust="spacingAndGlyphs">House sparrow</text>
<rect x="1209.9" y="406.05" width="68.5" height="305.9" fill="#000"/>
<text transform="translate(1230.7,559.05) rotate(90)" class="st" textLength="213.7" lengthAdjust="spacingAndGlyphs">Spotted dove</text>
<rect x="1209.9" y="729.75" width="68.5" height="305.9" fill="#000"/>
<text transform="translate(1230.7,882.8) rotate(90)" class="st" textLength="297.6" lengthAdjust="spacingAndGlyphs">Eurasian blackbird</text>
<rect x="1209.9" y="1053.45" width="68.5" height="305.9" fill="#000"/>
<text transform="translate(1230.7,1206.4) rotate(90)" class="st" textLength="271.6" lengthAdjust="spacingAndGlyphs">Common starling</text>
<rect x="1209.9" y="1377.15" width="68.5" height="305.9" fill="#000"/>
<text transform="translate(1230.7,1530.3) rotate(90)" class="st" textLength="149.4" lengthAdjust="spacingAndGlyphs">Silvereye</text>
<rect x="1209.9" y="1700.85" width="68.5" height="305.9" fill="#000"/>
<text transform="translate(1230.7,1854.2) rotate(90)" class="st" textLength="243.2" lengthAdjust="spacingAndGlyphs">Common myna</text>
<g transform="translate(1250,200) scale(0.130293)">

<path d="M38,1262 L300,1075 L440,995 L530,965 L545,1010 L430,1075 L200,1225 L120,1278 L150,1235 Z" fill="#5e5e5e"/>
<path d="M360,1092 L480,1005 L560,985 L700,1010 L720,1062 L600,1072 L450,1086 Z" fill="#e6d4ca"/>
<path d="M400,975 L430,935 L600,700 L700,520 L885,340 L960,260 L1010,180 L1060,128 L1200,110 L1300,150 L1380,200 L1395,250 L1330,300 L1310,480 L1310,620 L1290,760 L1230,860 L1130,940 L960,1000 L800,1040 L790,1088 L720,1085 L700,1032 L560,1030 L420,1040 Z" fill="#c2c1bd"/>
<path d="M440,940 C560,860 760,760 960,600" fill="none" stroke="#b9c4c8" stroke-width="8"/>
<path d="M430,935 C520,800 600,640 700,520 C780,430 840,370 885,340 L915,425 L945,500 L965,560 L960,600 L900,650 L780,730 L600,830 Z" fill="#8a3b26"/>
<path d="M628,592 L700,548 L770,540 L772,580 L720,584 L650,604 Z" fill="#2b3131"/>
<path d="M722,582 L800,556 L940,544 L962,575 L905,600 L860,596 L800,618 L760,602 Z" fill="#ffffff"/>
<path d="M598,642 L640,618 L680,630 L720,620 L772,628 L778,666 L740,660 L722,690 L690,672 L662,696 L640,676 L610,682 Z" fill="#2b3131"/>
<path d="M932,339 C920,290 930,250 960,215 C990,180 1020,150 1060,140 L1131,144 L1213,219 L1183,234 L1101,245 C1040,245 1000,270 996,302 C994,335 1020,365 1060,384 C1040,405 1000,412 965,390 C945,375 935,360 932,339 Z" fill="#7e3a26"/>
<path d="M1040,140 C1100,100 1200,90 1260,110 L1300,130 C1360,160 1395,200 1395,240 L1363,272 L1258,257 L1213,219 L1153,152 L1052,129 Z" fill="#a4a4a4"/>
<path d="M1131,185 L1160,190 L1180,219 L1150,222 Z" fill="#ffffff"/>
<path d="M1101,245 L1183,234 L1213,219 L1258,257 L1330,290 L1320,380 L1300,420 L1300,480 L1312,560 L1290,640 L1250,682 L1210,662 L1200,600 L1185,560 L1200,500 L1225,430 L1200,360 L1183,310 L1123,286 Z" fill="#2b2b2b"/>
<path d="M1315,300 L1380,265 L1420,300 L1465,410 L1420,396 L1330,376 Z" fill="#6b6b6b"/>
<path d="M1320,356 L1420,380 L1452,406 L1330,402 Z" fill="#c8b9b1"/>
<circle cx="1228" cy="276" r="33" fill="#3b2a2a"/>
<circle cx="1243" cy="281" r="9" fill="#fff"/>
<g fill="none" stroke="#8b5d51" stroke-linecap="round" stroke-linejoin="round">
<path d="M770,1090 L905,1282" stroke-width="38"/>
<path d="M905,1282 L770,1330 M905,1282 L1010,1380 M905,1282 L1110,1330 M905,1282 L960,1290" stroke-width="28"/>
<path d="M950,1020 L1145,1205" stroke-width="38"/>
<path d="M1145,1205 L995,1240 M1145,1205 L1255,1205 M1145,1205 L1235,1335 M1145,1205 L1290,1295" stroke-width="28"/>
</g>

</g>
<g transform="translate(1245,550) scale(0.188929)">

<path d="M1000,470 L1300,515 L1500,542 L1505,560 L1470,582 L1300,582 L1000,562 L900,540 Z" fill="#a1848c"/>
<path d="M100,150 C95,80 150,42 215,45 C290,50 330,110 335,180 L500,205 L900,385 L990,515 C960,560 900,590 820,618 C740,648 670,692 600,692 C520,692 420,652 340,602 C260,542 190,452 170,382 C155,322 150,262 155,222 Z" fill="#f6b7b5"/>
<path d="M600,600 L760,575 L900,565 L930,590 L800,615 L660,630 Z" fill="#f9d3cc"/>
<path d="M265,330 C270,260 330,200 400,190 C520,185 700,250 820,310 C900,350 940,390 952,432 C900,470 800,500 680,522 C560,542 420,542 310,502 C280,460 265,400 265,330 Z" fill="#8f7b87"/>
<path d="M310,502 C380,562 460,582 580,582 L720,562 L880,532 L1000,497 L1040,462 L1000,432 L955,420 C920,462 800,500 680,522 C560,542 420,542 310,502 Z" fill="#5c5475"/>
<path d="M195,228 L260,196 L340,170 L380,186 L386,216 L330,248 L270,292 L222,322 L200,302 Z" fill="#222"/>
<g fill="#f2f2f2">
<circle cx="222" cy="236" r="11"/><circle cx="250" cy="222" r="11"/><circle cx="278" cy="208" r="11"/><circle cx="306" cy="196" r="11"/><circle cx="334" cy="184" r="11"/><circle cx="362" cy="192" r="11"/>
<circle cx="218" cy="266" r="11"/><circle cx="246" cy="252" r="11"/><circle cx="274" cy="238" r="11"/><circle cx="302" cy="226" r="11"/><circle cx="330" cy="214" r="11"/><circle cx="362" cy="212" r="10"/>
<circle cx="222" cy="296" r="11"/><circle cx="250" cy="282" r="11"/><circle cx="278" cy="266" r="11"/><circle cx="306" cy="252" r="10"/><circle cx="334" cy="238" r="10"/>
<circle cx="238" cy="312" r="9"/>
</g>
<path d="M35,190 L60,165 L110,142 L150,134 L158,156 L110,170 L62,186 Z" fill="#6a6a90"/>
<circle cx="165" cy="115" r="22" fill="#e0308a"/>
<circle cx="167" cy="114" r="14" fill="#111"/>
<circle cx="171" cy="110" r="4" fill="#fff"/>
<g fill="none" stroke="#d87aa8" stroke-linecap="round" stroke-linejoin="round">
<path d="M440,672 L330,660 M440,672 L225,650 M330,660 L262,688 M380,690 L460,735" stroke-width="22"/>
<path d="M575,690 L545,790 L420,830 M545,790 L650,768" stroke-width="24"/>
</g>

</g>
<g transform="translate(1255,815) scale(0.162866)">

<path d="M210,165 C240,100 310,75 390,78 C480,82 540,140 560,230 L590,350 L700,450 L900,620 L1000,740 L1150,880 L1460,1060 L1455,1085 L1150,965 L1160,988 L1000,922 L820,922 L700,922 C550,882 420,802 340,702 C290,622 280,502 290,402 L285,322 L260,292 L230,252 L215,212 Z" fill="#0d0d0d"/>
<path d="M420,520 C440,440 540,415 650,425 C780,450 900,580 980,720 L1030,820 L1155,982 L1000,922 C900,882 780,842 650,762 C500,682 420,602 420,520 Z" fill="#2a2a2a"/>
<path d="M48,240 L120,212 L205,190 L250,210 L278,230 L230,250 L130,262 L55,255 Z" fill="#f39a3a"/>
<circle cx="340" cy="180" r="33" fill="#e8901f"/>
<circle cx="340" cy="180" r="23" fill="#111"/>
<circle cx="348" cy="175" r="8" fill="#fff"/>
<g fill="none" stroke="#2b2b2b" stroke-linecap="round" stroke-linejoin="round">
<path d="M690,935 L565,1205" stroke-width="26"/>
<path d="M790,955 L630,1265 L555,1340" stroke-width="28"/>
<path d="M565,1205 L430,1172 M565,1205 L460,1225 M565,1205 L635,1215 M540,1195 L520,1145" stroke-width="16"/>
<path d="M630,1265 L455,1275 M630,1265 L750,1290 M600,1250 L500,1245" stroke-width="16"/>
</g>

</g>
<g transform="translate(1235,1170) scale(0.172637)">

<path d="M40,1040 L180,900 L300,880 L330,920 L250,990 L100,1072 Z" fill="#4b4352"/>
<path d="M940,210 C960,120 1050,70 1150,68 C1240,70 1300,110 1320,130 L1300,150 L1280,175 C1220,210 1190,260 1180,330 L1170,420 C1160,520 1100,620 1000,700 L900,800 L850,880 L800,960 L760,1012 L730,982 L740,922 L620,932 L470,942 L300,922 L180,902 L300,800 L450,700 L600,560 L700,450 L800,360 L900,280 Z" fill="#0f1d25"/>
<defs><radialGradient id="navy" cx="0.45" cy="0.45" r="0.6"><stop offset="0" stop-color="#120f55"/><stop offset="0.55" stop-color="#0f1248"/><stop offset="1" stop-color="#0e1c26"/></radialGradient></defs>
<path d="M480,760 C600,660 800,620 1000,640 C980,720 920,800 860,880 L800,960 L760,1012 L730,982 L740,922 L620,932 L470,940 Z" fill="url(#navy)"/>
<path d="M940,210 C960,120 1050,70 1150,68 C1240,70 1300,110 1320,130 L1300,150 L1280,175 C1220,210 1190,260 1180,330 L1170,400 L1100,390 L1000,300 Z" fill="#163240"/>
<path d="M1040,140 C1080,200 1110,280 1120,360" stroke="#264b5b" stroke-width="30" opacity="0.8" fill="none" stroke-linecap="round"/>
<path d="M900,272 L940,222 L1000,300 L1090,390 L1060,422 L980,482 L900,552 L780,602 L650,612 L600,562 L700,452 L800,362 Z" fill="#3c6a58"/>
<path d="M640,592 C700,562 780,522 850,482 L960,422 L1060,392 L1090,422 C1100,502 1080,582 1030,642 L900,662 L800,642 L700,632 Z" fill="#3b5b9c"/>
<path d="M160,900 L320,790 L470,680 L600,530 L640,582 L700,642 L800,652 L900,662 L870,702 L700,762 L500,822 L300,882 Z" fill="#4e4658"/>
<path d="M630,612 L660,632 L690,620 L720,645 L745,640 L700,652 Z" fill="#e8c8a0"/>
<path d="M280,922 L330,872 L480,832 L500,862 L400,902 Z" fill="#3c6a58"/>
<g fill="#f0f0e8">
<circle cx="860" cy="330" r="9"/><circle cx="900" cy="320" r="9"/><circle cx="940" cy="340" r="9"/><circle cx="980" cy="360" r="9"/><circle cx="820" cy="370" r="9"/><circle cx="870" cy="380" r="9"/><circle cx="920" cy="390" r="9"/><circle cx="960" cy="400" r="9"/><circle cx="780" cy="410" r="9"/><circle cx="830" cy="420" r="9"/><circle cx="880" cy="430" r="9"/><circle cx="740" cy="440" r="9"/><circle cx="790" cy="460" r="9"/><circle cx="840" cy="470" r="9"/><circle cx="700" cy="470" r="9"/><circle cx="750" cy="490" r="9"/><circle cx="660" cy="500" r="9"/><circle cx="710" cy="520" r="9"/><circle cx="680" cy="550" r="8"/><circle cx="640" cy="560" r="8"/><circle cx="900" cy="480" r="8"/><circle cx="940" cy="460" r="8"/><circle cx="820" cy="510" r="8"/>
<circle cx="830" cy="560" r="10"/><circle cx="860" cy="565" r="10"/><circle cx="895" cy="565" r="10"/><circle cx="930" cy="558" r="10"/><circle cx="965" cy="545" r="10"/><circle cx="1005" cy="525" r="10"/><circle cx="780" cy="540" r="8"/>
</g>
<path d="M1270,162 L1310,118 L1335,115 L1400,135 L1472,155 L1400,168 L1300,192 Z" fill="#e6c02e"/>
<circle cx="1220" cy="145" r="24" fill="#050505"/>
<circle cx="1228" cy="140" r="6" fill="#fff"/>
<g fill="none" stroke="#b8334a" stroke-linecap="round" stroke-linejoin="round">
<path d="M595,925 L705,1060" stroke-width="28"/>
<path d="M705,1060 L575,1095 M705,1060 L830,1092 M640,1075 L610,1090" stroke-width="22"/>
<path d="M765,1015 L905,1128" stroke-width="30"/>
<path d="M905,1128 L780,1160 M905,1128 L1140,1135 M905,1128 L1000,1150 M870,1080 L940,1060" stroke-width="22"/>
</g>

</g>
<g transform="translate(1245,1545) scale(0.149835)">

<path d="M45,200 L90,165 L150,155 L300,200 L540,265 L520,300 L420,340 L300,280 L150,230 L60,215 Z" fill="#6d7b16"/>
<path d="M45,200 L100,160 L160,155 L300,205 L272,232 L150,215 L90,215 Z" fill="#4a4d48"/>
<defs><linearGradient id="rust" x1="0" y1="0" x2="0" y2="1"><stop offset="0" stop-color="#bf6630"/><stop offset="0.6" stop-color="#d49060"/><stop offset="1" stop-color="#ffffff"/></linearGradient></defs>
<path d="M310,300 C340,350 400,400 450,470 C500,560 560,640 620,682 C700,702 850,702 950,682 C1100,642 1220,522 1280,345 L1150,380 L700,380 L400,360 Z" fill="#ffffff"/>
<path d="M310,300 C340,350 400,400 450,470 C500,560 560,640 620,682 C700,702 850,702 950,682 C1100,642 1220,522 1280,345" fill="none" stroke="#4a78c0" stroke-width="6"/>
<path d="M400,395 L700,405 L900,390 L960,440 L975,480 L950,560 L900,602 L700,632 L580,622 L520,562 L470,482 Z" fill="url(#rust)"/>
<path d="M660,240 L820,190 L960,140 L1000,200 L1080,320 L1160,380 L1140,432 L1050,452 L960,422 L900,342 L820,302 L720,282 Z" fill="#7499c9"/>
<path d="M960,140 C1020,85 1120,60 1220,65 C1320,72 1380,130 1390,190 L1400,232 L1330,262 L1280,322 L1160,392 L1080,352 L1000,252 Z" fill="#8fa11c"/>
<path d="M320,385 L420,330 L560,260 L660,240 L760,290 L840,330 L870,352 L780,400 L700,410 L520,400 L400,395 Z" fill="#8c9d1a"/>
<path d="M680,455 L700,420 L790,390 L870,340 L897,362 L870,392 L800,422 L740,442 Z" fill="#ffffff"/>
<circle cx="1215" cy="195" r="50" fill="#fff"/>
<circle cx="1215" cy="190" r="26" fill="#3a2222"/>
<circle cx="1228" cy="182" r="7" fill="#fff"/>
<path d="M1300,236 L1380,180 L1472,232 L1420,246 L1310,256 Z" fill="#a9bccf"/>
<path d="M1300,236 L1420,244 L1310,256 Z" fill="#4a4a55"/>
<g fill="none" stroke="#4b4b4b" stroke-linecap="round" stroke-linejoin="round">
<path d="M660,690 L770,770" stroke-width="30"/>
<path d="M770,770 L700,802 M770,770 L835,828 M770,770 L905,822" stroke-width="22"/>
<path d="M1025,655 L1150,740" stroke-width="30"/>
<path d="M1150,740 L1020,722 M1150,740 L1172,802 M1150,740 L1232,798" stroke-width="22"/>
</g>

</g>
<g transform="translate(1265,1765) scale(0.117647)">

<defs><radialGradient id="mynab" cx="0.5" cy="0.45" r="0.62"><stop offset="0" stop-color="#aa614d"/><stop offset="0.6" stop-color="#a05a47"/><stop offset="1" stop-color="#5e372d"/></radialGradient></defs>
<path d="M300,950 L260,1000 L240,1200 L168,1500 L200,1500 L158,1700 L280,1720 L330,1600 L462,1502 L360,1422 L330,1250 L330,1000 Z" fill="#1c1c1c"/>
<path d="M100,1770 L160,1700 L280,1720 L322,1762 L282,1852 L200,1842 L150,1872 L68,1852 Z" fill="#fbfbfb" stroke="#444" stroke-width="3"/>
<path d="M490,150 C530,75 640,55 730,60 C860,68 970,130 1030,240 C1050,280 1050,300 1040,320 L975,330 C975,420 960,500 900,545 C850,560 790,550 740,520 C680,470 620,440 560,425 C530,380 520,330 515,290 Z" fill="#222222"/>
<path d="M330,800 C350,600 440,450 560,425 C620,440 680,470 740,520 C790,550 850,560 900,545 C960,500 975,420 975,330 C1080,360 1170,600 1180,850 C1190,1100 1080,1300 850,1380 C700,1420 520,1400 420,1320 C330,1230 300,1050 330,800 Z" fill="url(#mynab)" stroke="#5a2f25" stroke-width="4"/>
<path d="M555,222 C590,205 629,195 700,185 C744,176 800,172 830,186 L899,238 C860,248 822,252 766,264 C720,272 655,270 600,258 L555,236 Z" fill="#f5d31a" stroke="#1a1a3a" stroke-width="8"/>
<circle cx="692" cy="196" r="54" fill="#b0288f"/>
<circle cx="694" cy="194" r="30" fill="#111"/>
<circle cx="703" cy="180" r="10" fill="#fff"/>
<path d="M285,282 C330,242 420,202 490,182 L560,202 L580,242 L580,302 L520,292 L440,272 L320,292 Z" fill="#e9c53c"/>
<path d="M450,262 L560,242 L562,282 Z" fill="#3a3a50"/>
<g fill="none" stroke="#f5d010" stroke-linecap="round" stroke-linejoin="round">
<path d="M350,1280 L500,1500 L620,1750" stroke-width="48"/>
<path d="M620,1750 L560,1950 M620,1750 L740,1990 M620,1750 L760,1860" stroke-width="36"/>
<path d="M640,1400 L760,1700 L820,1720" stroke-width="46"/>
<path d="M800,1720 L730,1722 M800,1720 L990,1800 M800,1720 L960,1920 M800,1720 L830,1880" stroke-width="34"/>
</g>

</g>
</svg>
</body></html>
